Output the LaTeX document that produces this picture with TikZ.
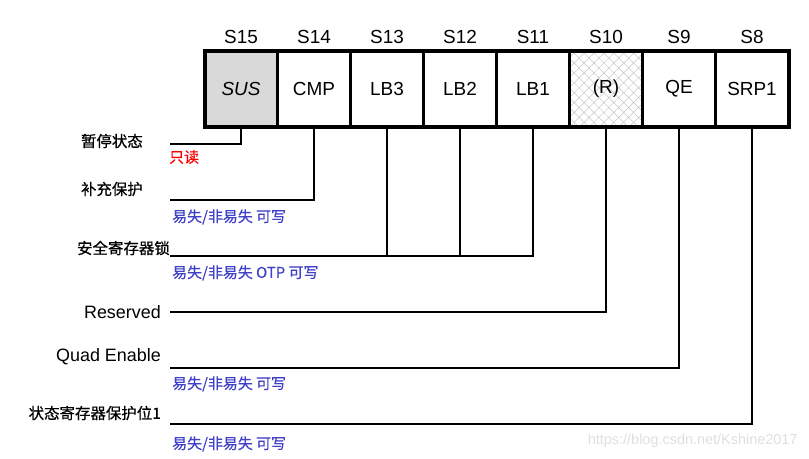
\documentclass[tikz,border=0pt]{standalone}
\usepackage{fontspec}
\setmainfont{Liberation Sans}
\newfontfamily\cjk{Noto Sans CJK SC}[FakeBold=0.3]
\newfontfamily\cjkdark{Noto Sans CJK SC}[FakeBold=0.6]
\usetikzlibrary{positioning, patterns.meta}
\definecolor{WriteBlue}{RGB}{64,64,200}
\definecolor{SusGray}{RGB}{217,217,217}

\tikzset{
  bitcell/.style={draw, line width=2.5bp, minimum width=73bp, minimum height=76bp,
    inner sep=0pt, outer sep=0pt, font=\fontsize{19}{19}\selectfont},
  bitname/.style={font=\fontsize{19}{19}\selectfont},
  lead/.style={line width=2.2bp},
  desc/.style={font=\cjkdark\fontsize{15.5}{16}\selectfont, inner sep=0pt, anchor=east},
  sidename/.style={font=\fontsize{18}{18}\selectfont, inner sep=0pt, anchor=east},
  access/.style={font=\cjk\fontsize{15}{16}\selectfont, text=WriteBlue, inner sep=0pt, anchor=west},
}

\begin{document}
\begin{tikzpicture}[x=1bp, y=-1bp]
    \useasboundingbox (0,0) rectangle (809,459);

    % register bits S15..S8
    \node[bitcell, fill=SusGray, font=\fontsize{19}{19}\selectfont\itshape] (sus) at (241,89) {SUS};
    \node[bitcell, right=0pt of sus] (cmp) {CMP};
    \node[bitcell, right=0pt of cmp] (lbthree) {LB3};
    \node[bitcell, right=0pt of lbthree] (lbtwo) {LB2};
    \node[bitcell, right=0pt of lbtwo] (lbone) {LB1};
    \node[bitcell, right=0pt of lbone, pattern={Hatch[angle=45, distance=7bp, line width=0.5bp]},
          pattern color=gray!45] (res) {};
    \node[font=\fontsize{19}{19}\selectfont] (reslbl) at (res) {(R)};
    \node[bitcell, right=0pt of res] (qe) {QE};
    \node[bitcell, right=0pt of qe] (srp) {SRP1};
    \draw[line width=4bp] (sus.north west) rectangle (srp.south east);

    % bit numbers
    \foreach \cell/\num in {sus/S15, cmp/S14, lbthree/S13, lbtwo/S12, lbone/S11, res/S10, qe/S9, srp/S8}
        \node[bitname, above=4bp of \cell] (\cell num) {\num};

    % SUS
    \coordinate (susend) at (170,144);
    \draw[lead] (sus.south) |- (susend);
    \node[desc] (suslbl) at (143,141) {暂停状态};
    \node[access, text=red] (susacc) at (169,157) {只读};

    % CMP
    \coordinate (cmpend) at (170,200);
    \draw[lead] (cmp.south) |- (cmpend);
    \node[desc] (cmplbl) at (143,189) {补充保护};
    \node[access] (cmpacc) at (172,217) {易失/非易失 可写};

    % LB3..LB1
    \coordinate (lbend) at (170,256);
    \draw[lead] (lbone.south) |- (lbend);
    \draw[lead] (lbthree.south) -- (lbthree.south |- lbend);
    \draw[lead] (lbtwo.south) -- (lbtwo.south |- lbend);
    \node[desc] (lblbl) at (170,248) {安全寄存器锁};
    \node[access] (lbacc) at (172,273) {易失/非易失 OTP 可写};

    % reserved
    \coordinate (resend) at (170,312);
    \draw[lead] (res.south) |- (resend);
    \node[sidename] (resname) at (161,312) {Reserved};

    % QE
    \coordinate (qeend) at (170,368);
    \draw[lead] (qe.south) |- (qeend);
    \node[sidename] (qename) at (161,357) {Quad Enable};
    \node[access] (qeacc) at (172,384) {易失/非易失 可写};

    % SRP1
    \coordinate (srpend) at (170,424);
    \draw[lead] (srp.south) |- (srpend);
    \node[desc] (srplbl) at (161,413) {状态寄存器保护位1};
    \node[access] (srpacc) at (172,444) {易失/非易失 可写};

    \node[anchor=east, text=gray!25, font=\fontsize{14.5}{15}\selectfont] (mark) at (801,441) {https://blog.csdn.net/Kshine2017};
\end{tikzpicture}
\end{document}
